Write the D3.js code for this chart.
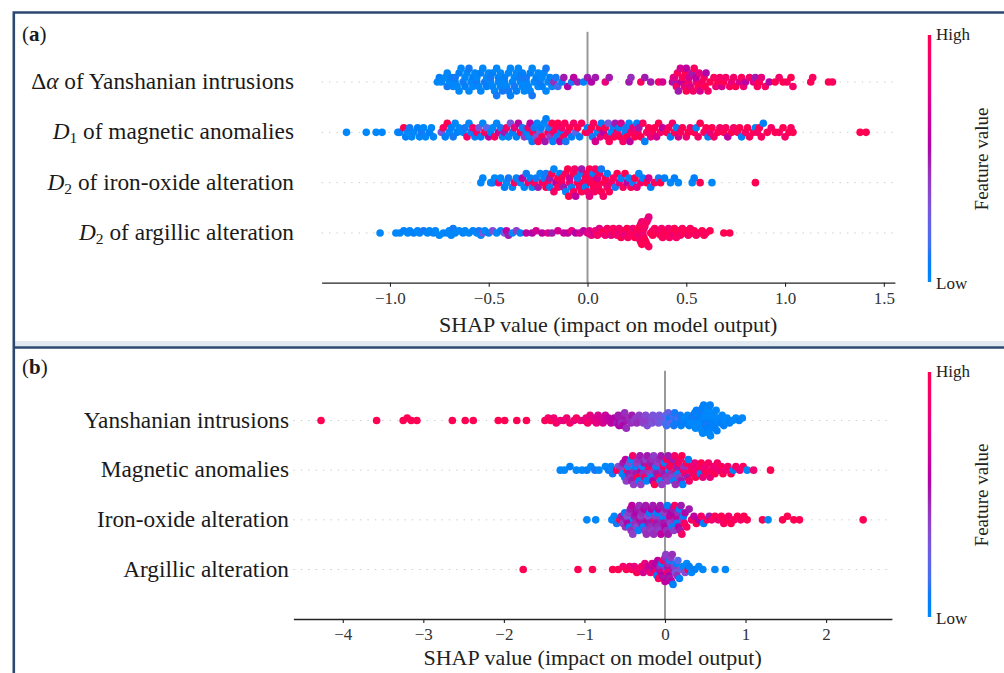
<!DOCTYPE html>
<html>
<head>
<meta charset="UTF-8">
<title>SHAP summary plots</title>
<style>
  body { margin: 0; background: #fff; }
  svg { display: block; font-family: "Liberation Serif", "DejaVu Serif", serif; }
</style>
</head>
<body>
<script src="https://d3js.org/d3.v7.min.js"></script>
<script>

// ---- data: [SHAP value, normalised feature value] ----

var aYanshanian = [
  [-0.76,0],[-0.75,.05],[-0.74,0],[-0.72,0],[-0.71,.1],[-0.71,0],[-0.70,0],[-0.69,.05],[-0.68,0],[-0.67,0],
  [-0.67,.1],[-0.66,0],[-0.65,.05],[-0.65,0],[-0.64,0],[-0.63,.1],[-0.62,0],[-0.62,.05],[-0.61,0],[-0.60,0],
  [-0.60,.1],[-0.59,0],[-0.58,.05],[-0.58,0],[-0.57,0],[-0.56,.1],[-0.56,0],[-0.55,0],[-0.54,.05],[-0.54,0],
  [-0.53,0],[-0.52,.1],[-0.51,0],[-0.51,.05],[-0.50,0],[-0.49,0],[-0.49,.1],[-0.48,0],[-0.48,.05],[-0.47,0],
  [-0.46,0],[-0.46,.1],[-0.45,0],[-0.45,.05],[-0.44,0],[-0.44,0],[-0.43,.1],[-0.42,0],[-0.42,.05],[-0.41,0],
  [-0.40,0],[-0.40,.1],[-0.39,0],[-0.39,.05],[-0.38,0],[-0.37,0],[-0.37,.1],[-0.36,0],[-0.36,.05],[-0.35,0],
  [-0.34,0],[-0.34,.1],[-0.33,0],[-0.33,.05],[-0.32,0],[-0.31,0],[-0.31,.1],[-0.30,0],[-0.29,.05],[-0.29,0],
  [-0.28,0],[-0.28,.1],[-0.27,0],[-0.26,.05],[-0.25,0],[-0.25,0],[-0.24,.1],[-0.23,0],[-0.23,.05],[-0.22,0],
  [-0.21,0],[-0.21,.1],[-0.20,0],[-0.19,.05],[-0.18,0],[-0.17,.45],[-0.16,.1],[-0.15,.15],[-0.13,.05],[-0.12,.5],
  [-0.10,.55],[-0.08,.1],[-0.07,.6],[-0.05,.5],[-0.02,.05],
  [0.00,.5],[0.02,.55],[0.04,.5],[0.09,.8],[0.11,.5],[0.21,.5],[0.22,.45],[0.27,.95],[0.29,.5],[0.32,.5],
  [0.36,.9],[0.38,.7],[0.43,.6],[0.435,.8],[0.44,.5],[0.44,.75],[0.45,.9],[0.455,.95],[0.46,.5],[0.47,.7],
  [0.475,.6],[0.48,.95],[0.49,.8],[0.495,1],[0.50,1],[0.50,.6],[0.51,.9],[0.515,.7],[0.52,.75],[0.53,.5],
  [0.535,.9],[0.54,.95],[0.55,.85],[0.55,.6],[0.56,1],[0.565,.8],[0.57,.7],[0.58,.9],[0.59,.95],[0.595,1],
  [0.60,.55],[0.61,.9],[0.62,1],[0.64,.95],[0.65,.85],[0.66,1],[0.67,.9],[0.68,.7],[0.69,1],[0.70,.9],
  [0.72,.95],[0.73,.8],[0.74,.9],[0.75,1],[0.77,.7],[0.78,.95],[0.79,.85],[0.80,.6],[0.82,.9],[0.84,.8],
  [0.85,.5],[0.86,.95],[0.87,1],[0.88,.8],[0.90,.9],[0.92,.55],[0.95,1],[0.97,.9],[0.99,1],[1.01,.95],
  [1.03,1],[1.04,.9],[1.13,1],[1.14,.95],[1.22,1],[1.24,.95]
];

var aMagnetic = [
  [-1.22,0],[-1.12,0],[-1.07,0],[-1.04,0],
  [-0.96,0],[-0.95,.05],[-0.93,1],[-0.92,.05],[-0.91,0],[-0.90,.1],[-0.89,0],[-0.88,0],[-0.86,.05],[-0.85,0],
  [-0.84,.1],[-0.83,0],[-0.82,0],[-0.80,.05],[-0.79,0],[-0.78,0],
  [-0.74,.3],[-0.73,.95],[-0.72,.05],[-0.71,1],[-0.70,0],[-0.69,.05],[-0.68,.1],[-0.67,0],[-0.66,.05],[-0.65,0],
  [-0.63,0],[-0.62,.1],[-0.61,.9],[-0.60,0],
  [-0.59,.1],[-0.58,.9],[-0.57,.05],[-0.56,.9],[-0.55,.3],[-0.54,.05],[-0.53,0],[-0.52,1],[-0.51,.2],[-0.50,.6],
  [-0.49,.05],[-0.48,0],[-0.47,.95],[-0.46,0],[-0.45,.7],[-0.44,.1],[-0.43,0],[-0.42,.5],[-0.41,.9],[-0.40,0],
  [-0.39,.3],[-0.38,.05],[-0.37,.8],[-0.36,.05],[-0.35,.6],[-0.34,1],[-0.33,.1],[-0.32,.4],[-0.31,.05],[-0.30,.9],
  [-0.295,0],[-0.29,.6],[-0.28,.05],[-0.275,1],[-0.27,.1],[-0.26,.3],[-0.255,0],[-0.25,.95],[-0.24,.2],[-0.235,.05],
  [-0.23,1],[-0.22,0],[-0.215,.5],[-0.21,.05],[-0.20,.9],[-0.195,.1],[-0.19,.4],[-0.18,1],[-0.175,.05],[-0.17,.9],
  [-0.16,.95],[-0.155,.1],[-0.15,1],[-0.14,.6],[-0.135,.05],[-0.13,.9],[-0.12,1],[-0.115,.95],[-0.11,.1],[-0.10,.85],
  [-0.09,1],[-0.08,.05],[-0.07,.9],[-0.06,.2],[-0.05,1],[-0.04,.05],[-0.03,.95],[-0.01,1],
  [0.00,.05],[0.01,.9],[0.02,1],[0.025,.1],[0.03,.95],[0.04,.7],[0.05,0],[0.06,1],[0.065,.8],[0.07,.05],
  [0.08,.6],[0.09,1],[0.10,.9],[0.105,.3],[0.11,.95],[0.12,0],[0.13,.05],[0.135,1],[0.14,.5],[0.15,.9],
  [0.16,.05],[0.165,1],[0.17,.7],[0.18,.9],[0.19,.05],[0.195,.1],[0.20,1],[0.21,0],[0.215,.6],[0.22,.95],
  [0.23,.8],[0.24,1],[0.25,.05],[0.255,.9],[0.26,.5],[0.27,1],[0.28,.95],[0.29,.05],[0.30,.9],[0.31,1],
  [0.32,.8],[0.33,.95],[0.34,1],[0.35,.7],
  [0.36,1],[0.37,.9],[0.38,.6],[0.40,1],[0.41,.95],[0.42,.05],[0.43,.9],[0.44,1],[0.45,.05],[0.46,.7],
  [0.47,.95],[0.48,1],[0.50,.85],[0.51,1],[0.52,.9],[0.54,1],[0.55,0],[0.56,.9],[0.57,1],[0.59,.95],
  [0.60,1],[0.61,.05],[0.62,.8],[0.63,1],[0.64,.9],
  [0.66,1],[0.67,.9],[0.69,1],[0.70,.95],[0.71,.6],[0.73,1],[0.74,.9],[0.76,.95],[0.77,1],[0.78,.05],
  [0.80,.9],[0.81,1],[0.82,.95],[0.84,1],[0.85,0],[0.86,.9],[0.87,1],[0.88,.95],[0.89,.05],[0.91,1],
  [0.93,.9],[0.95,1],[0.97,.95],[0.99,1],[1.00,.9],[1.02,1],[1.03,.95],[1.04,1],[1.38,1],[1.41,1]
];

var aIronOxide = [
  [-0.54,0],[-0.53,0],[-0.49,0],[-0.48,.05],[-0.47,0],[-0.45,.9],[-0.44,0],[-0.42,.05],[-0.41,0],[-0.40,.1],
  [-0.38,0],[-0.37,.95],[-0.36,.05],[-0.34,0],[-0.33,.6],[-0.32,0],[-0.31,.1],[-0.30,.9],[-0.29,.05],[-0.28,0],
  [-0.27,.95],[-0.26,.1],[-0.25,.5],[-0.24,0],[-0.23,.9],
  [-0.22,.05],[-0.21,1],[-0.21,.1],[-0.20,.95],[-0.19,.5],[-0.19,.05],[-0.18,1],[-0.17,.9],[-0.17,0],[-0.16,.6],
  [-0.15,1],[-0.15,.95],[-0.14,.05],[-0.13,.9],[-0.13,1],[-0.12,.5],[-0.11,.95],[-0.11,0],[-0.10,1],[-0.095,1],
  [-0.09,.9],[-0.09,.7],[-0.08,.05],[-0.07,1],[-0.07,.95],[-0.065,.9],[-0.06,.6],[-0.05,1],[-0.05,.1],[-0.04,.9],
  [-0.035,.05],[-0.03,1],[-0.03,.5],[-0.02,.95],[-0.01,1],[-0.01,.05],[-0.005,.95],[0.00,.9],
  [0.01,1],[0.01,.8],[0.015,1],[0.02,.95],[0.03,1],[0.03,.05],[0.035,.9],[0.04,.9],[0.05,1],[0.05,.7],
  [0.055,.95],[0.06,.95],[0.07,1],[0.07,.1],[0.08,.9],[0.085,1],[0.09,1],[0.10,.85],[0.10,.05],[0.11,1],
  [0.12,.9],[0.13,.95],[0.14,.1],[0.15,1],[0.16,.8],[0.17,.05],[0.18,.95],[0.19,1],[0.20,.6],
  [0.21,.05],[0.22,.95],[0.23,.1],[0.24,1],[0.25,.8],[0.26,0],[0.27,.9],[0.28,.05],[0.30,1],[0.31,.7],
  [0.32,.05],[0.34,.95],[0.36,.1],[0.37,1],[0.39,.05],[0.42,0],[0.44,.05],[0.46,0],
  [0.53,0],[0.54,.05],[0.57,1],[0.63,0],[0.85,1]
];

var aArgillic = [
  [-1.05,0],[-0.97,0],[-0.95,0],[-0.93,.05],[-0.91,0],[-0.90,0],[-0.88,.05],[-0.86,0],[-0.85,0],[-0.83,.1],
  [-0.81,0],[-0.80,0],[-0.78,.05],[-0.77,0],[-0.75,0],[-0.73,0],[-0.71,.05],[-0.70,0],[-0.69,0],[-0.68,.1],
  [-0.67,0],[-0.65,0],[-0.63,.05],[-0.62,0],[-0.60,0],[-0.58,.05],[-0.56,0],[-0.55,.1],[-0.54,0],[-0.53,.3],
  [-0.52,0],[-0.50,.05],[-0.48,.35],[-0.46,0],[-0.44,.05],[-0.42,.3],[-0.41,.6],[-0.40,.5],[-0.38,0],[-0.36,.4],
  [-0.34,.05],[-0.31,.6],[-0.28,.55],[-0.26,.7],[-0.23,.6],[-0.20,.75],[-0.18,.5],[-0.15,.7],[-0.12,.65],[-0.10,.6],
  [-0.08,.8],[-0.06,.55],[-0.04,.7],[-0.02,.6],[0.00,.75],
  [0.01,.75],[0.02,.8],[0.03,.7],[0.04,.85],[0.05,.9],[0.06,.75],[0.07,.9],[0.08,1],[0.09,.85],[0.10,.9],
  [0.11,1],[0.115,.95],[0.12,.8],[0.13,.95],[0.14,1],[0.145,.9],[0.15,.85],[0.16,.9],[0.17,1],[0.175,.85],
  [0.18,.95],[0.19,.8],[0.20,1],[0.205,.95],[0.21,.9],
  [0.22,1],[0.23,.95],[0.23,.85],[0.24,1],[0.25,.9],[0.25,1],[0.255,.9],[0.26,.95],[0.26,.8],[0.265,1],
  [0.265,.95],[0.27,1],[0.27,.9],[0.275,.85],[0.275,1],[0.28,1],[0.28,.95],[0.28,.85],[0.285,.95],[0.285,.9],
  [0.29,.85],[0.29,1],[0.29,.95],[0.295,1],[0.30,.9],[0.30,1],[0.305,.9],[0.31,.95],[0.31,.8],[0.32,1],
  [0.33,.9],[0.33,1],[0.34,.95],[0.35,1],[0.36,.9],
  [0.37,1],[0.375,.9],[0.38,.95],[0.39,.9],[0.395,1],[0.40,1],[0.41,.85],[0.415,.95],[0.42,1],[0.43,.95],
  [0.435,.85],[0.44,1],[0.45,.9],[0.455,1],[0.46,1],[0.47,.9],[0.48,.95],[0.49,1],[0.50,1],[0.51,.9],
  [0.52,.95],[0.53,1],[0.54,1],[0.55,.95],[0.565,.9],[0.58,1],[0.59,1],[0.60,.95],[0.62,1],[0.69,1],
  [0.72,1]
];

var bYanshanian = [
  [-4.27,1],[-3.58,1],[-3.25,1],[-3.20,1],[-3.15,1],[-3.08,1],[-2.64,1],[-2.48,1],[-2.38,1],[-2.07,1],
  [-1.99,1],[-1.84,1],[-1.72,1],
  [-1.49,.95],[-1.45,.9],[-1.42,1],[-1.38,.85],[-1.35,.9],[-1.30,.85],[-1.26,.8],[-1.22,.85],[-1.18,.9],[-1.13,.8],
  [-1.10,.95],[-1.05,.85],[-1.00,.75],[-0.98,.8],[-0.96,.9],[-0.93,.8],[-0.90,.85],[-0.88,.75],[-0.85,.8],[-0.83,.7],
  [-0.80,.75],[-0.78,.7],[-0.77,.7],[-0.74,.65],[-0.72,.65],[-0.70,.6],[-0.67,.6],[-0.65,.6],[-0.63,.55],[-0.60,.5],
  [-0.58,.5],[-0.57,.55],[-0.56,.55],[-0.55,.5],[-0.54,.45],[-0.53,.5],[-0.52,.55],[-0.50,.45],[-0.48,.45],[-0.47,.5],
  [-0.44,.45],[-0.42,.45],[-0.41,.5],[-0.38,.4],[-0.36,.4],[-0.35,.45],[-0.32,.4],[-0.30,.45],[-0.28,.4],[-0.27,.4],
  [-0.24,.35],[-0.22,.35],[-0.21,.4],[-0.18,.35],[-0.16,.3],[-0.15,.3],[-0.12,.35],[-0.10,.3],[-0.08,.3],[-0.07,.3],
  [-0.04,.25],[-0.02,.3],[0.00,.2],[0.01,.2],
  [0.02,.15],[0.04,.25],[0.05,.15],[0.06,.1],[0.08,.2],[0.10,.15],[0.11,.1],[0.12,.1],[0.14,.05],[0.16,.15],
  [0.18,.1],[0.19,.1],[0.20,.05],[0.22,.1],[0.24,0],[0.26,.05],[0.28,0],[0.30,.05],[0.32,0],
  [0.33,.05],[0.34,0],[0.35,.1],[0.36,0],[0.37,.05],[0.38,0],[0.39,.05],[0.40,0],[0.41,.1],
  [0.42,0],[0.425,.05],[0.43,0],[0.44,.05],[0.445,0],[0.45,.1],[0.46,0],[0.465,.05],[0.47,0],[0.48,.05],
  [0.485,0],[0.49,0],[0.50,.05],[0.505,0],[0.51,.1],[0.52,0],[0.525,.05],[0.53,0],[0.54,.05],[0.545,0],
  [0.55,0],[0.56,.05],[0.565,0],[0.57,.1],[0.58,0],[0.585,.05],[0.59,0],[0.60,.05],
  [0.61,0],[0.62,.05],[0.635,0],[0.645,.05],[0.66,0],[0.67,0],
  [0.69,.05],[0.71,0],[0.73,.05],[0.75,0],[0.77,0],[0.80,.05],[0.84,0],[0.88,0],[0.92,.05],[0.96,0]
];

var bMagnetic = [
  [-1.30,0],[-1.25,0],[-1.18,.05],[-1.10,0],[-1.03,0],[-0.97,.05],[-0.92,0],[-0.87,.1],[-0.82,0],[-0.74,0],
  [-0.70,.05],[-0.67,0],[-0.65,.1],
  [-0.60,.9],[-0.58,.3],[-0.56,1],[-0.55,.4],[-0.53,0],[-0.52,.5],[-0.50,.05],[-0.49,.6],[-0.48,.4],[-0.47,.95],
  [-0.46,0],[-0.45,.5],[-0.44,.35],[-0.43,.45],[-0.42,0],[-0.41,.5],[-0.40,.9],[-0.39,.4],[-0.38,.45],[-0.37,.05],
  [-0.36,.5],[-0.35,.4],[-0.34,1],[-0.33,.45],[-0.32,.05],[-0.31,.5],[-0.30,.4],[-0.29,.6],[-0.28,0],[-0.27,.45],
  [-0.26,.5],[-0.25,.95],[-0.24,.4],[-0.23,.05],[-0.22,.5],[-0.21,.45],[-0.20,.9],[-0.19,.4],[-0.18,.5],[-0.17,0],
  [-0.16,.45],[-0.15,.55],[-0.14,.4],[-0.13,1],[-0.12,.45],[-0.11,.05],[-0.10,.5],[-0.09,.4],[-0.08,.85],[-0.07,.45],
  [-0.06,0],[-0.05,.5],[-0.04,.4],[-0.03,.45],[-0.02,.9],[-0.01,.5],
  [0.00,.05],[0.01,.45],[0.02,.95],[0.03,.4],[0.04,.5],[0.05,0],[0.06,.9],[0.07,.45],[0.08,1],[0.09,.4],
  [0.10,.5],[0.11,.05],[0.12,.9],[0.13,.45],[0.14,1],[0.15,.5],[0.16,.05],[0.17,.95],[0.18,.4],[0.19,.9],
  [0.20,.5],[0.21,1],[0.22,.05],[0.23,.85],[0.24,.45],[0.25,.9],[0.27,1],[0.28,.5],[0.29,.05],[0.30,.9],
  [0.32,1],[0.33,.85],[0.35,.9],[0.37,.8],[0.38,1],[0.40,.85],[0.42,.9],[0.44,.05],[0.45,1],[0.47,.8],
  [0.49,.9],[0.50,.85],[0.52,1],[0.54,.9],[0.56,.8],[0.58,.95],[0.60,.85],[0.62,1],[0.65,.9],[0.67,.8],
  [0.70,.95],[0.72,1],[0.75,.85],[0.78,.9],[0.82,1],[0.85,.05],[0.88,.9],[0.93,.85],[0.97,.95],[1.02,0],
  [1.10,.85],[1.31,1]
];

var bIronOxide = [
  [-0.97,0],[-0.86,0],[-0.66,0],[-0.63,0],[-0.60,.1],[-0.56,1],[-0.54,.5],[-0.52,.4],[-0.50,.05],[-0.49,.45],
  [-0.48,.5],[-0.47,.3],[-0.46,.55],[-0.45,.4],[-0.44,.05],[-0.43,.5],[-0.42,.45],[-0.41,.6],[-0.40,.4],[-0.39,0],
  [-0.38,.5],[-0.37,.45],[-0.36,.55],[-0.35,.35],[-0.34,.5],[-0.33,.05],[-0.32,.45],[-0.31,.6],[-0.30,.4],[-0.29,.5],
  [-0.28,.45],[-0.27,.05],[-0.26,.55],[-0.25,.4],[-0.24,.5],[-0.23,.45],[-0.22,.6],[-0.21,.35],[-0.20,.5],[-0.19,.05],
  [-0.18,.45],[-0.17,.55],[-0.16,.4],[-0.15,.5],[-0.14,.45],[-0.13,.9],[-0.12,.4],[-0.11,.5],[-0.10,.05],[-0.09,.45],
  [-0.08,.55],[-0.07,.4],[-0.06,.5],[-0.05,.6],[-0.04,.45],[-0.03,.05],[-0.02,.5],[-0.01,.4],[0.00,.55],[0.01,.5],
  [0.02,.45],[0.03,.05],[0.04,.5],[0.05,.45],[0.06,.6],[0.07,.4],[0.08,.55],[0.09,.05],[0.10,.5],[0.11,.4],
  [0.12,.95],[0.13,.45],[0.14,.6],[0.15,.05],[0.16,.45],[0.17,.6],[0.18,.05],[0.19,.5],[0.20,.5],[0.21,.9],
  [0.22,.4],[0.23,.05],[0.24,.9],[0.25,.55],[0.27,.95],[0.30,.5],
  [0.33,.9],[0.36,.6],[0.39,1],[0.42,.55],[0.45,.9],[0.48,.05],[0.52,.95],[0.55,.5],[0.58,.9],[0.62,1],
  [0.66,.85],[0.70,1],[0.73,.95],[0.76,1],[0.79,.9],[0.82,1],[0.86,.95],[0.90,1],[0.94,.9],[0.98,1],
  [1.02,1],[1.21,1],[1.28,0],[1.46,1],[1.52,1],[1.60,1],[1.67,1],[2.46,1]
];

var bArgillic = [
  [-1.76,1],[-1.08,1],[-0.90,1],[-0.65,1],[-0.58,1],[-0.52,.9],[-0.48,1],[-0.44,.85],[-0.41,.95],[-0.38,.8],
  [-0.35,1],[-0.32,.85],[-0.29,.9],[-0.27,.7],[-0.25,.8],[-0.22,.75],[-0.20,.6],[-0.18,.85],[-0.16,.7],[-0.14,.5],
  [-0.13,.65],[-0.12,.9],[-0.11,.55],[-0.10,.05],[-0.09,.6],[-0.08,.95],[-0.07,.5],[-0.06,.45],[-0.05,.7],[-0.04,.05],
  [-0.03,.55],[-0.02,.9],[-0.01,.5],[0.00,.45],[0.00,.6],[0.01,.4],[0.02,.05],[0.03,.5],[0.03,.85],[0.04,.45],
  [0.05,.55],[0.06,.1],[0.06,.5],[0.07,.4],[0.08,.6],[0.09,.45],[0.10,.05],[0.11,.5],[0.12,.4],[0.13,.3],
  [0.14,.05],[0.15,.45],[0.16,.2],
  [0.18,.05],[0.20,.3],[0.22,0],[0.25,.35],[0.27,0],[0.29,1],[0.30,.05],
  [0.33,0],[0.37,.05],[0.42,0],[0.47,0],[0.62,0],[0.75,0]
];

var labelsA = [
  [["\u0394",""],["\u03b1","it"],[" of Yanshanian intrusions",""]],
  [["D","it"],["1","sub"],[" of magnetic anomalies",""]],
  [["D","it"],["2","sub"],[" of iron-oxide alteration",""]],
  [["D","it"],["2","sub"],[" of argillic alteration",""]]
];
var labelsB = [
  [["Yanshanian intrusions",""]],
  [["Magnetic anomalies",""]],
  [["Iron-oxide alteration",""]],
  [["Argillic alteration",""]]
];

var ticksA = [-1, -0.5, 0, 0.5, 1, 1.5];
var ticksB = [-4, -3, -2, -1, 0, 1, 2];

var axisTitle = "SHAP value (impact on model output)";

// ---- shap red_blue colour map (lch, lightness dips to 40 in the middle) ----
function shapColor(t) {
  var l = t < 0.5 ? 54 - 28 * t : 40 + 28 * (t - 0.5);
  var c = 70 + 20 * t;
  var h = 266.93 + t * (380.32 - 266.93);
  return d3.hcl(h % 360, c, l).formatHex();
}

// shap-style beeswarm offsets, in row units
function swarm(points, x, binPx) {
  var px = points.map(function(d) { return x(d[0]); });
  var lo = d3.min(px), hi = d3.max(px);
  var nbins = Math.max(1, Math.round((hi - lo) / binPx));
  var quant = px.map(function(p) { return Math.round(nbins * (p - lo) / (hi - lo + 1e-8)); });
  var order = d3.range(points.length).sort(function(i, j) { return quant[i] - quant[j] || i - j; });
  var ys = new Array(points.length).fill(0), layer = 0, last = -1;
  order.forEach(function(i) {
    if (quant[i] !== last) layer = 0;
    ys[i] = Math.ceil(layer / 2) * ((layer % 2) * 2 - 1);
    layer++;
    last = quant[i];
  });
  var m = d3.max(ys) + 1;
  return ys.map(function(v) { return v * 0.9 * 0.4 / m; });
}

var svg = d3.select("body").append("svg")
  .attr("width", 1004)
  .attr("height", 673);

// panel frames
svg.append("rect").attr("x", 14).attr("y", 341).attr("width", 1000).attr("height", 5).attr("fill", "#e2e8f0");
svg.append("path")
  .attr("d", "M13.8,680 V12.5 H1010 M13.8,347.5 H1010")
  .attr("fill", "none").attr("stroke", "#2d4870").attr("stroke-width", 2.6);

var grad = svg.append("defs").append("linearGradient")
  .attr("id", "fv").attr("x1", 0).attr("y1", 1).attr("x2", 0).attr("y2", 0);
d3.range(0, 1.0001, 0.05).forEach(function(t) {
  grad.append("stop").attr("offset", t).attr("stop-color", shapColor(t));
});

var panels = [
  { tag: "a", rows: [aYanshanian, aMagnetic, aIronOxide, aArgillic], labels: labelsA,
    domain: [-1.346, 1.556], xr: [321.6, 894.9], yr: [82, 233], top: 31.8, axisY: 282.7,
    ticks: ticksA, fmt: d3.format(".1f"), labelX: 294, tagY: 41, titleY: 332,
    cbar: [35, 282], highY: 40, lowY: 289, fvY: 159 },
  { tag: "b", rows: [bYanshanian, bMagnetic, bIronOxide, bArgillic], labels: labelsB,
    domain: [-4.613, 2.817], xr: [293.4, 891.9], yr: [420.5, 569.5], top: 370.8, axisY: 619,
    ticks: ticksB, fmt: d3.format("d"), labelX: 289, tagY: 374, titleY: 665,
    cbar: [372, 617], highY: 377, lowY: 624, fvY: 495 }
];

panels.forEach(function(p) {
  var g = svg.append("g");
  var x = d3.scaleLinear().domain(p.domain).range(p.xr);
  var y = d3.scalePoint().domain(d3.range(p.rows.length)).range(p.yr);
  var step = y.step();

  // dotted row guides
  g.selectAll(".guide").data(p.rows).enter().append("line")
    .attr("x1", p.xr[0]).attr("x2", p.xr[1])
    .attr("y1", function(d, i) { return y(i); })
    .attr("y2", function(d, i) { return y(i); })
    .attr("stroke", "#cccccc").attr("stroke-width", 1)
    .attr("stroke-dasharray", "1.4,6");

  // zero line
  g.append("line")
    .attr("x1", x(0)).attr("x2", x(0))
    .attr("y1", p.top).attr("y2", p.axisY)
    .attr("stroke", "#999999").attr("stroke-width", 2);

  // dots
  p.rows.forEach(function(pts, i) {
    var off = swarm(pts, x, 7);
    g.append("g").selectAll("circle").data(pts).enter().append("circle")
      .attr("cx", function(d) { return x(d[0]); })
      .attr("cy", function(d, k) { return y(i) - off[k] * step; })
      .attr("r", 3.8)
      .attr("fill", function(d) { return shapColor(d[1]); });
  });

  // x axis
  var ax = g.append("g")
    .attr("transform", "translate(0," + p.axisY + ")")
    .call(d3.axisBottom(x).tickValues(p.ticks).tickFormat(p.fmt).tickSize(4).tickSizeOuter(0).tickPadding(5));
  ax.select(".domain").attr("stroke", "#222").attr("stroke-width", 1.3);
  ax.selectAll(".tick line").attr("stroke", "#222").attr("stroke-width", 1.1);
  ax.selectAll(".tick text").attr("fill", "#333").style("font-size", "17px")
    .style("font-family", "'Liberation Serif', serif");

  g.append("text")
    .attr("x", (p.xr[0] + p.xr[1]) / 2).attr("y", p.titleY)
    .attr("text-anchor", "middle").attr("fill", "#222")
    .style("font-size", "22px")
    .text(axisTitle);

  // feature labels
  p.labels.forEach(function(parts, i) {
    var t = g.append("text")
      .attr("x", p.labelX).attr("y", y(i) + 7)
      .attr("text-anchor", "end").attr("fill", "#1a1a1a")
      .style("font-size", "23.3px");
    parts.forEach(function(part, k) {
      var ts = t.append("tspan").text(part[0]);
      if (part[1] === "it") ts.style("font-style", "italic");
      if (part[1] === "sub") ts.style("font-size", "15.5px").attr("dy", 4);
      if (k > 0 && parts[k - 1][1] === "sub") ts.attr("dy", -4);
    });
  });

  // panel tag
  var tag = g.append("text").attr("x", 22).attr("y", p.tagY).attr("fill", "#1a1a1a").style("font-size", "21px");
  tag.append("tspan").text("(");
  tag.append("tspan").style("font-weight", "bold").text(p.tag);
  tag.append("tspan").text(")");

  // colour bar
  g.append("rect")
    .attr("x", 927.8).attr("y", p.cbar[0]).attr("width", 3.4).attr("height", p.cbar[1] - p.cbar[0])
    .attr("fill", "url(#fv)");
  g.append("text").attr("x", 936).attr("y", p.highY).attr("fill", "#222").style("font-size", "17px").text("High");
  g.append("text").attr("x", 936).attr("y", p.lowY).attr("fill", "#222").style("font-size", "17px").text("Low");
  g.append("text")
    .attr("transform", "translate(988," + p.fvY + ") rotate(-90)")
    .attr("text-anchor", "middle").attr("fill", "#222")
    .style("font-size", "19px")
    .text("Feature value");
});

</script>
</body>
</html>
